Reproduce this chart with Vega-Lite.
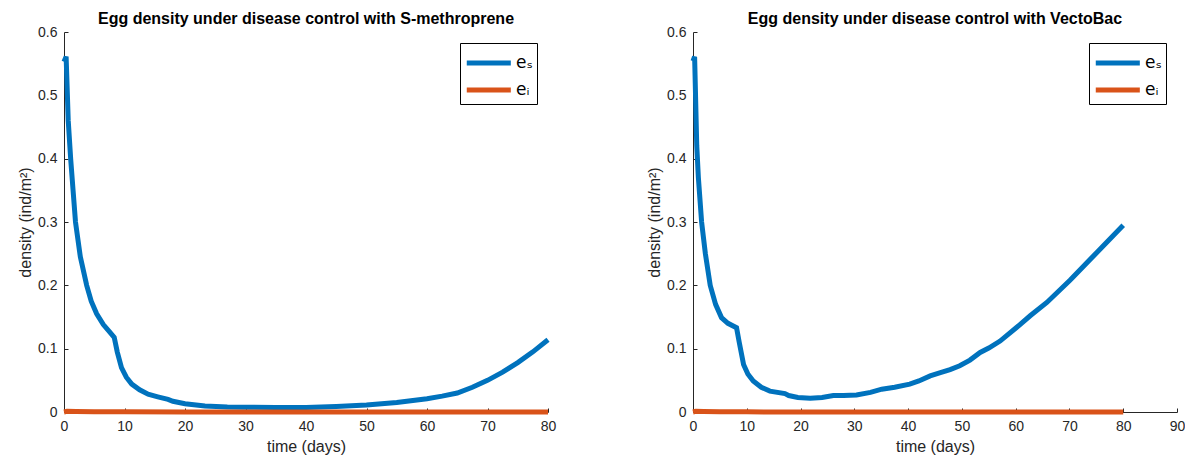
{
  "$schema": "https://vega.github.io/schema/vega-lite/v6.json",
  "padding": {"left": 17, "top": 11, "right": 5, "bottom": 5},
  "background": "white",
  "bounds": "flush",
  "spacing": 145,
  "config": {
    "view": {"stroke": null},
    "font": "Liberation Sans",
    "axis": {
      "grid": false,
      "domainColor": "#262626",
      "tickColor": "#262626",
      "labelColor": "#262626",
      "titleColor": "#262626",
      "labelFont": "Liberation Sans",
      "titleFont": "Liberation Sans",
      "labelFontSize": 14,
      "titleFontSize": 16,
      "titleFontWeight": "normal",
      "tickSize": -4,
      "labelPadding": 11,
      "domainWidth": 1,
      "labelFlush": false,
      "labelOverlap": false
    },
    "title": {"font": "Liberation Sans", "fontSize": 16, "fontWeight": "bold", "color": "black", "offset": -2},
    "legend": {
      "orient": "top-right",
      "offset": 11,
      "strokeColor": "black",
      "fillColor": "white",
      "padding": 4,
      "cornerRadius": 0,
      "labelFont": "DejaVu Sans",
      "labelFontSize": 17,
      "labelColor": "black",
      "symbolStrokeWidth": 5,
      "symbolType": "M-1,0H2.33",
      "symbolSize": 700,
      "labelOffset": 20,
      "rowPadding": 1,
      "title": null
    }
  },
  "data": {"values": [
    {"p":"L","s":"eₛ","t":0,"v":0.553},{"p":"L","s":"eₛ","t":0.35,"v":0.561},{"p":"L","s":"eₛ","t":0.7,"v":0.46},{"p":"L","s":"eₛ","t":1.1,"v":0.4},{"p":"L","s":"eₛ","t":1.5,"v":0.35},{"p":"L","s":"eₛ","t":1.9,"v":0.3},{"p":"L","s":"eₛ","t":2.7,"v":0.245},{"p":"L","s":"eₛ","t":3.75,"v":0.2},{"p":"L","s":"eₛ","t":4.5,"v":0.175},{"p":"L","s":"eₛ","t":5.4,"v":0.155},{"p":"L","s":"eₛ","t":6.5,"v":0.138},{"p":"L","s":"eₛ","t":7.5,"v":0.127},{"p":"L","s":"eₛ","t":8.3,"v":0.118},{"p":"L","s":"eₛ","t":8.8,"v":0.095},{"p":"L","s":"eₛ","t":9.5,"v":0.07},{"p":"L","s":"eₛ","t":10.3,"v":0.055},{"p":"L","s":"eₛ","t":11.2,"v":0.044},{"p":"L","s":"eₛ","t":12.5,"v":0.035},{"p":"L","s":"eₛ","t":13.9,"v":0.028},{"p":"L","s":"eₛ","t":15.5,"v":0.024},{"p":"L","s":"eₛ","t":17.2,"v":0.02},{"p":"L","s":"eₛ","t":18,"v":0.017},{"p":"L","s":"eₛ","t":20,"v":0.013},{"p":"L","s":"eₛ","t":23.3,"v":0.0095},{"p":"L","s":"eₛ","t":27,"v":0.008},{"p":"L","s":"eₛ","t":30,"v":0.0075},{"p":"L","s":"eₛ","t":35,"v":0.007},{"p":"L","s":"eₛ","t":40,"v":0.007},{"p":"L","s":"eₛ","t":45,"v":0.0085},{"p":"L","s":"eₛ","t":50,"v":0.011},{"p":"L","s":"eₛ","t":55,"v":0.015},{"p":"L","s":"eₛ","t":60,"v":0.021},{"p":"L","s":"eₛ","t":62.5,"v":0.025},{"p":"L","s":"eₛ","t":65,"v":0.03},{"p":"L","s":"eₛ","t":67.5,"v":0.039},{"p":"L","s":"eₛ","t":70,"v":0.05},{"p":"L","s":"eₛ","t":72.5,"v":0.063},{"p":"L","s":"eₛ","t":75,"v":0.078},{"p":"L","s":"eₛ","t":77.5,"v":0.095},{"p":"L","s":"eₛ","t":80,"v":0.114},
    {"p":"L","s":"eᵢ","t":0,"v":0},{"p":"L","s":"eᵢ","t":0.5,"v":0.001},{"p":"L","s":"eᵢ","t":2,"v":0.0008},{"p":"L","s":"eᵢ","t":5,"v":0.0005},{"p":"L","s":"eᵢ","t":10,"v":0.0002},{"p":"L","s":"eᵢ","t":20,"v":0},{"p":"L","s":"eᵢ","t":40,"v":0},{"p":"L","s":"eᵢ","t":80,"v":0},
    {"p":"R","s":"eₛ","t":0,"v":0.554},{"p":"R","s":"eₛ","t":0.3,"v":0.561},{"p":"R","s":"eₛ","t":0.7,"v":0.42},{"p":"R","s":"eₛ","t":1.0,"v":0.37},{"p":"R","s":"eₛ","t":1.6,"v":0.3},{"p":"R","s":"eₛ","t":2.3,"v":0.25},{"p":"R","s":"eₛ","t":3.2,"v":0.2},{"p":"R","s":"eₛ","t":4.2,"v":0.17},{"p":"R","s":"eₛ","t":5.3,"v":0.149},{"p":"R","s":"eₛ","t":6.5,"v":0.14},{"p":"R","s":"eₛ","t":8.1,"v":0.133},{"p":"R","s":"eₛ","t":8.6,"v":0.11},{"p":"R","s":"eₛ","t":9.4,"v":0.075},{"p":"R","s":"eₛ","t":10.2,"v":0.06},{"p":"R","s":"eₛ","t":11.2,"v":0.049},{"p":"R","s":"eₛ","t":12.7,"v":0.039},{"p":"R","s":"eₛ","t":14.3,"v":0.033},{"p":"R","s":"eₛ","t":17.1,"v":0.029},{"p":"R","s":"eₛ","t":17.8,"v":0.026},{"p":"R","s":"eₛ","t":19.5,"v":0.023},{"p":"R","s":"eₛ","t":21.8,"v":0.0216},{"p":"R","s":"eₛ","t":24,"v":0.023},{"p":"R","s":"eₛ","t":26.1,"v":0.026},{"p":"R","s":"eₛ","t":28,"v":0.026},{"p":"R","s":"eₛ","t":30.4,"v":0.027},{"p":"R","s":"eₛ","t":33,"v":0.031},{"p":"R","s":"eₛ","t":35.1,"v":0.036},{"p":"R","s":"eₛ","t":37.5,"v":0.039},{"p":"R","s":"eₛ","t":40.3,"v":0.044},{"p":"R","s":"eₛ","t":42,"v":0.049},{"p":"R","s":"eₛ","t":44.1,"v":0.057},{"p":"R","s":"eₛ","t":46,"v":0.062},{"p":"R","s":"eₛ","t":47.8,"v":0.067},{"p":"R","s":"eₛ","t":49.6,"v":0.073},{"p":"R","s":"eₛ","t":51.5,"v":0.082},{"p":"R","s":"eₛ","t":53.4,"v":0.094},{"p":"R","s":"eₛ","t":55,"v":0.101},{"p":"R","s":"eₛ","t":57.1,"v":0.112},{"p":"R","s":"eₛ","t":60.1,"v":0.133},{"p":"R","s":"eₛ","t":62.7,"v":0.152},{"p":"R","s":"eₛ","t":65.8,"v":0.173},{"p":"R","s":"eₛ","t":70.1,"v":0.208},{"p":"R","s":"eₛ","t":75.1,"v":0.252},{"p":"R","s":"eₛ","t":80,"v":0.295},
    {"p":"R","s":"eᵢ","t":0,"v":0},{"p":"R","s":"eᵢ","t":0.5,"v":0.001},{"p":"R","s":"eᵢ","t":2,"v":0.0008},{"p":"R","s":"eᵢ","t":5,"v":0.0005},{"p":"R","s":"eᵢ","t":10,"v":0.0002},{"p":"R","s":"eᵢ","t":20,"v":0},{"p":"R","s":"eᵢ","t":40,"v":0},{"p":"R","s":"eᵢ","t":80,"v":0}
  ]},
  "resolve": {"scale": {"color": "independent", "x": "independent"}, "legend": {"color": "independent"}},
  "hconcat": [
    {
      "title": "Egg density under disease control with S-methroprene",
      "width": 484,
      "height": 380,
      "transform": [{"filter": "datum.p === 'L'"}],
      "mark": {"type": "line", "strokeWidth": 5, "clip": false},
      "encoding": {
        "x": {"field": "t", "type": "quantitative", "scale": {"domain": [0, 80], "nice": false}, "axis": {"title": "time (days)", "values": [0,10,20,30,40,50,60,70,80], "titlePadding": 5}},
        "y": {"field": "v", "type": "quantitative", "scale": {"domain": [0, 0.6], "nice": false}, "axis": {"title": "density (ind/m²)", "values": [0,0.1,0.2,0.3,0.4,0.5,0.6], "format": ".1~f", "titlePadding": 4}},
        "color": {"field": "s", "type": "nominal", "scale": {"domain": ["eₛ", "eᵢ"], "range": ["#0072BD", "#D95319"]}},
        "order": {"field": "s", "sort": "descending"}
      }
    },
    {
      "title": "Egg density under disease control with VectoBac",
      "width": 484,
      "height": 380,
      "transform": [{"filter": "datum.p === 'R'"}],
      "mark": {"type": "line", "strokeWidth": 5, "clip": false},
      "encoding": {
        "x": {"field": "t", "type": "quantitative", "scale": {"domain": [0, 90], "nice": false}, "axis": {"title": "time (days)", "values": [0,10,20,30,40,50,60,70,80,90], "titlePadding": 5}},
        "y": {"field": "v", "type": "quantitative", "scale": {"domain": [0, 0.6], "nice": false}, "axis": {"title": "density (ind/m²)", "values": [0,0.1,0.2,0.3,0.4,0.5,0.6], "format": ".1~f", "titlePadding": 4}},
        "color": {"field": "s", "type": "nominal", "scale": {"domain": ["eₛ", "eᵢ"], "range": ["#0072BD", "#D95319"]}},
        "order": {"field": "s", "sort": "descending"}
      }
    }
  ]
}
